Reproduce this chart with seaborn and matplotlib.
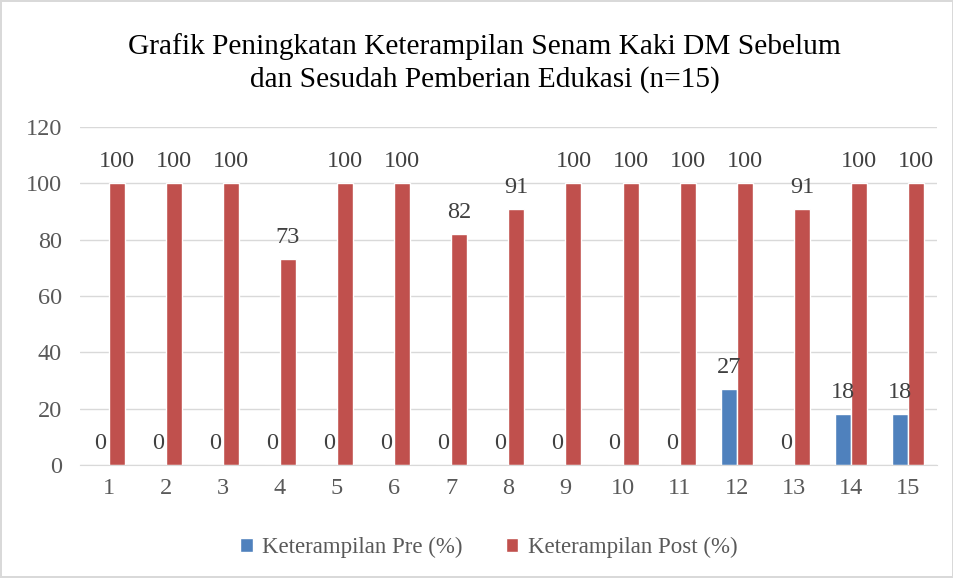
import matplotlib.pyplot as plt
import pandas as pd
import seaborn as sns

# Data
responden = [str(i) for i in range(1, 16)]
pre = [0, 0, 0, 0, 0, 0, 0, 0, 0, 0, 0, 27, 0, 18, 18]
post = [100, 100, 100, 73, 100, 100, 82, 91, 100, 100, 100, 100, 91, 100, 100]
series = ['Keterampilan Pre (%)', 'Keterampilan Post (%)']

df = pd.DataFrame({
    'responden': responden * 2,
    'nilai': pre + post,
    'seri': [series[0]] * 15 + [series[1]] * 15,
})

sns.set_style('white')
plt.rcParams['font.family'] = ['Liberation Serif', 'DejaVu Serif']

fig = plt.figure(figsize=(9.54, 5.78), dpi=100)
ax = fig.add_axes([0.0839, 0.1955, 0.898, 0.5845])

sns.barplot(data=df, x='responden', y='nilai', hue='seri', hue_order=series,
            palette=['#4F81BD', '#C0504D'], width=0.56, gap=0, saturation=1,
            ax=ax, legend=True)

for c in ax.containers:
    ax.bar_label(c, fmt='%d', padding=8, fontsize=17.5, color='#404040')

ax.set_ylim(0, 120)
ax.set_yticks(range(0, 121, 20))
ax.set_xlim(-0.5, 14.5)
ax.yaxis.grid(True, color='#d9d9d9', linewidth=1)
ax.set_axisbelow(True)
for s in ['top', 'right', 'left']:
    ax.spines[s].set_visible(False)
ax.spines['bottom'].set_color('#d9d9d9')
ax.tick_params(axis='both', length=0, labelsize=17.5, colors='#595959')
ax.tick_params(axis='y', pad=13)
ax.tick_params(axis='x', pad=9)
ax.set_xlabel('')
ax.set_ylabel('')

fig.suptitle('Grafik Peningkatan Keterampilan Senam Kaki DM Sebelum\ndan Sesudah Pemberian Edukasi (n=15)',
             x=0.508, y=0.943, fontsize=21.2, color='#000000', linespacing=1.32)

leg = ax.legend(loc='center', bbox_to_anchor=(0.477, -0.245), ncol=2, frameon=False,
                fontsize=16.5, handlelength=0.55, handleheight=0.55, handletextpad=0.4,
                columnspacing=1.9)
for t in leg.get_texts():
    t.set_color('#595959')

fig.patch.set_edgecolor('#d9d9d9')
fig.patch.set_linewidth(1.5)
fig.savefig('out.png', dpi=100, edgecolor=fig.get_edgecolor())
